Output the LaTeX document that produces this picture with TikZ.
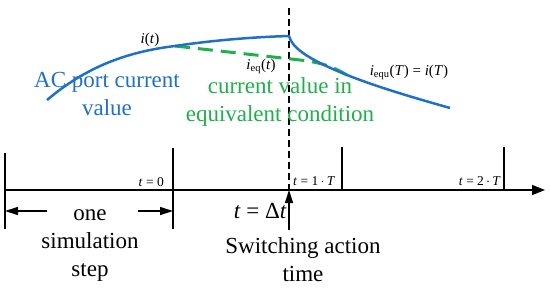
\documentclass[tikz,border=0pt]{standalone}
\usepackage{fontspec}
\setmainfont{Liberation Serif}
\usetikzlibrary{arrows.meta,positioning}
\definecolor{acblue}{HTML}{1F70C8}
\definecolor{eqgreen}{HTML}{1FB04B}
\tikzset{
  bigtext/.style={align=center, font=\fontsize{23}{28}\selectfont, inner sep=0pt},
  ticklabel/.style={font=\fontsize{13.5}{15}\selectfont, inner sep=0pt},
  curvelabel/.style={font=\fontsize{15}{17}\selectfont, inner sep=0pt},
  tickline/.style={line width=1.3pt},
  spanarr/.style={-{Triangle[length=13pt,width=8pt]}, line width=1.3pt},
  axisarr/.style={-{Triangle[length=13pt,width=10pt]}, line width=1.3pt},
  accurve/.style={draw=acblue, line width=2.5pt},
  eqcurve/.style={draw=eqgreen, line width=3pt, dash pattern=on 15pt off 8pt}
}
\begin{document}
\begin{tikzpicture}[x=1pt,y=-1pt]
    \useasboundingbox (0,0) rectangle (550,295);
    % time axis and ticks
    \coordinate (a0) at (5,190);
    \coordinate (a1) at (545,190);
    \coordinate (s) at (289,190);
    \draw[axisarr] (a0) -- (a1);
    \draw[tickline] (5,153) -- (5,229);
    \draw[tickline] (173,148) -- (173,229);
    \draw[tickline] (342,147) -- (342,190);
    \draw[tickline] (504,147) -- (504,190);
    \node[ticklabel, anchor=base east] (t0) at (164,186) {\textit{t} = 0};
    \node[ticklabel, anchor=base west] (t1) at (293,185) {\textit{t} = 1\,$\cdot$\,\textit{T}};
    \node[ticklabel, anchor=base east] (t2) at (501,185) {\textit{t} = 2\,$\cdot$\,\textit{T}};
    % simulation step
    \coordinate (l0) at (47,211);
    \coordinate (l1) at (5,211);
    \coordinate (r0) at (138,211);
    \coordinate (r1) at (173,211);
    \draw[spanarr] (l0) -- (l1);
    \draw[spanarr] (r0) -- (r1);
    \node[bigtext] (step) at (90,246) {one\\simulation\\step};
    % switching instant
    \coordinate (top) at (289,8);
    \coordinate (bot) at (289,230);
    \draw[line width=2pt, dash pattern=on 7pt off 4pt] (top) -- (s);
    \draw[spanarr] (bot) -- (s);
    \node[bigtext, anchor=base east] (dt) at (287,218) {\textit{t} = Δ\textit{t}};
    \node[bigtext] (sw) at (303,260) {Switching action\\time};
    % current curves
    \coordinate (c0) at (47,100);
    \coordinate (c1) at (175,46);
    \coordinate (c2) at (289,36);
    \coordinate (c3) at (347,75);
    \coordinate (c4) at (450,108);
    \draw[eqcurve] (c1) -- (300,60) .. controls (325,63) and (335,68) .. (c3);
    \draw[accurve] (c0) .. controls (85,68) and (125,52) .. (c1)
      .. controls (215,40) and (255,37) .. (c2)
      .. controls (292,47) and (305,58) .. (c3)
      .. controls (380,88) and (415,98) .. (c4);
    \node[curvelabel] (it) at (150,40) {\textit{i}(\textit{t})};
    \node[curvelabel] (ieq) at (261,66) {\textit{i}\textsubscript{eq}(\textit{t})};
    \node[curvelabel] (iequ) at (409,72) {\textit{i}\textsubscript{equ}(\textit{T}) = \textit{i}(\textit{T})};
    \node[bigtext, text=acblue] (ac) at (107,94) {AC port current\\value};
    \node[bigtext, text=eqgreen] (eq) at (280,102) {current value in\\equivalent condition};
  \end{tikzpicture}
\end{document}
